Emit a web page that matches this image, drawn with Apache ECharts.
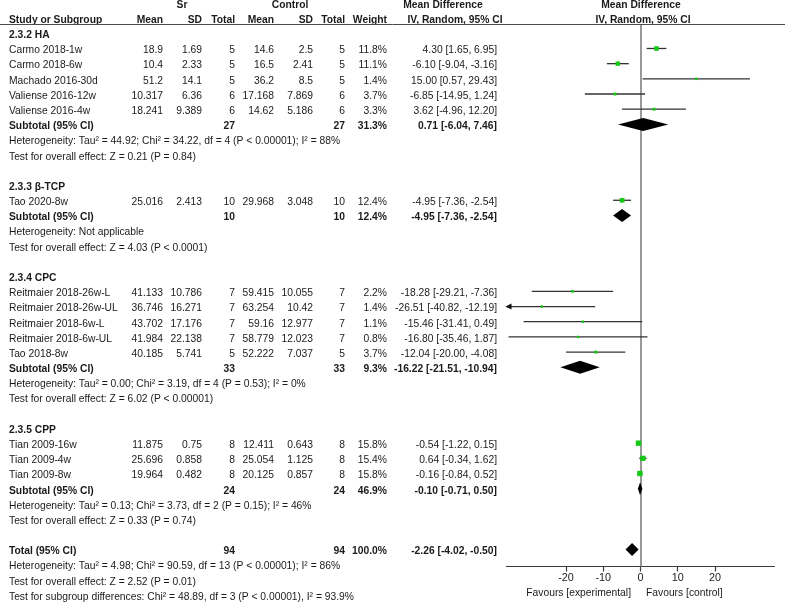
<!DOCTYPE html>
<html>
<head>
<meta charset="utf-8">
<script src="https://cdn.jsdelivr.net/npm/echarts@6/dist/echarts.min.js"></script>
<style>
html,body{margin:0;padding:0;background:#fff;}
#chart{width:785px;height:609px;}
</style>
</head>
<body>
<div id="chart"></div>
<script>
// ---------- data ----------
const studyNames = ['Carmo 2018-1w','Carmo 2018-6w','Machado 2016-30d','Valiense 2016-12w','Valiense 2016-4w','Tao 2020-8w','Reitmaier 2018-26w-L','Reitmaier 2018-26w-UL','Reitmaier 2018-6w-L','Reitmaier 2018-6w-UL','Tao 2018-8w','Tian 2009-16w','Tian 2009-4w','Tian 2009-8w'];
const studyGroup = [0,0,0,0,0,1,2,2,2,2,2,3,3,3];
const srMean = ['18.9','10.4','51.2','10.317','18.241','25.016','41.133','36.746','43.702','41.984','40.185','11.875','25.696','19.964'];
const srSD = ['1.69','2.33','14.1','6.36','9.389','2.413','10.786','16.271','17.176','22.138','5.741','0.75','0.858','0.482'];
const srN = [5,5,5,6,6,10,7,7,7,7,5,8,8,8];
const ctMean = ['14.6','16.5','36.2','17.168','14.62','29.968','59.415','63.254','59.16','58.779','52.222','12.411','25.054','20.125'];
const ctSD = ['2.5','2.41','8.5','7.869','5.186','3.048','10.055','10.42','12.977','12.023','7.037','0.643','1.125','0.857'];
const ctN = [5,5,5,6,6,10,7,7,7,7,5,8,8,8];
const weight = [11.8,11.1,1.4,3.7,3.3,12.4,2.2,1.4,1.1,0.8,3.7,15.8,15.4,15.8];
const md = [4.30,-6.10,15.00,-6.85,3.62,-4.95,-18.28,-26.51,-15.46,-16.80,-12.04,-0.54,0.64,-0.16];
const ciLo = [1.65,-9.04,0.57,-14.95,-4.96,-7.36,-29.21,-40.82,-31.41,-35.46,-20.00,-1.22,-0.34,-0.84];
const ciHi = [6.95,-3.16,29.43,1.24,12.20,-2.54,-7.36,-12.19,0.49,1.87,-4.08,0.15,1.62,0.52];

const groupNames = ['2.3.2 HA','2.3.3 β-TCP','2.3.4 CPC','2.3.5 CPP'];
const subSrN = [27,10,33,24];
const subCtN = [27,10,33,24];
const subWeight = [31.3,12.4,9.3,46.9];
const subMd = [0.71,-4.95,-16.22,-0.10];
const subLo = [-6.04,-7.36,-21.51,-0.71];
const subHi = [7.46,-2.54,-10.94,0.50];
const hetText = [
  'Heterogeneity: Tau² = 44.92; Chi² = 34.22, df = 4 (P < 0.00001); I² = 88%',
  'Heterogeneity: Not applicable',
  'Heterogeneity: Tau² = 0.00; Chi² = 3.19, df = 4 (P = 0.53); I² = 0%',
  'Heterogeneity: Tau² = 0.13; Chi² = 3.73, df = 2 (P = 0.15); I² = 46%'
];
const testText = [
  'Test for overall effect: Z = 0.21 (P = 0.84)',
  'Test for overall effect: Z = 4.03 (P < 0.0001)',
  'Test for overall effect: Z = 6.02 (P < 0.00001)',
  'Test for overall effect: Z = 0.33 (P = 0.74)'
];
const totalSrN = 94, totalCtN = 94, totalWeight = 100.0;
const totalMd = -2.26, totalLo = -4.02, totalHi = -0.50;
const totalLines = [
  'Heterogeneity: Tau² = 4.98; Chi² = 90.59, df = 13 (P < 0.00001); I² = 86%',
  'Test for overall effect: Z = 2.52 (P = 0.01)',
  'Test for subgroup differences: Chi² = 48.89, df = 3 (P < 0.00001), I² = 93.9%'
];
const tickValues = [-20,-10,0,10,20];
const favoursLeft = 'Favours [experimental]';
const favoursRight = 'Favours [control]';

// ---------- layout (row slots) ----------
const rows = [];
const studySlot = [], subSlot = [];
rows.push({slot:-2, type:'head1'});
rows.push({slot:-1, type:'head2'});
let s = 0;
groupNames.forEach((g, gi) => {
  rows.push({slot:s++, type:'group', gi});
  studyNames.forEach((n, i) => {
    if (studyGroup[i] === gi) { studySlot[i] = s; rows.push({slot:s++, type:'study', i}); }
  });
  subSlot[gi] = s; rows.push({slot:s++, type:'sub', gi});
  rows.push({slot:s++, type:'het', gi});
  rows.push({slot:s++, type:'test', gi});
  s++;
});
const totalSlot = s;
rows.push({slot:s++, type:'total'});
totalLines.forEach((t, k) => rows.push({slot:s++, type:'tline', k}));

// ---------- styles ----------
const FONT = '"Liberation Sans", Arial, sans-serif';
const FS = 10.3;
const TXT = '#1a1a1a';
const COL = {name:9, srMean:163, srSD:202, srN:235, ctMean:274, ctSD:313, ctN:345, w:387, eff:497};
const XMIN = -36, XMAX = 36;

function f2(v){ return v.toFixed(2); }
function eff(m,l,h){ return f2(m) + ' [' + f2(l) + ', ' + f2(h) + ']'; }

function cellsFor(r){
  const c = [];
  const add = (x, text, align, bold) => c.push({x, text, align, bold});
  switch (r.type) {
    case 'head1':
      add(182,'Sr','center',true); add(290,'Control','center',true);
      add(443,'Mean Difference','center',true); add(641,'Mean Difference','center',true);
      break;
    case 'head2':
      add(COL.name,'Study or Subgroup','left',true);
      add(COL.srMean,'Mean','right',true); add(COL.srSD,'SD','right',true); add(COL.srN,'Total','right',true);
      add(COL.ctMean,'Mean','right',true); add(COL.ctSD,'SD','right',true); add(COL.ctN,'Total','right',true);
      add(COL.w,'Weight','right',true);
      add(455,'IV, Random, 95% CI','center',true); add(643,'IV, Random, 95% CI','center',true);
      break;
    case 'group': add(COL.name, groupNames[r.gi], 'left', true); break;
    case 'study': {
      const i = r.i;
      add(COL.name, studyNames[i], 'left', false);
      add(COL.srMean, srMean[i], 'right', false); add(COL.srSD, srSD[i], 'right', false); add(COL.srN, String(srN[i]), 'right', false);
      add(COL.ctMean, ctMean[i], 'right', false); add(COL.ctSD, ctSD[i], 'right', false); add(COL.ctN, String(ctN[i]), 'right', false);
      add(COL.w, weight[i].toFixed(1)+'%', 'right', false);
      add(COL.eff, eff(md[i], ciLo[i], ciHi[i]), 'right', false);
      break; }
    case 'sub': {
      const g = r.gi;
      add(COL.name, 'Subtotal (95% CI)', 'left', true);
      add(COL.srN, String(subSrN[g]), 'right', true); add(COL.ctN, String(subCtN[g]), 'right', true);
      add(COL.w, subWeight[g].toFixed(1)+'%', 'right', true);
      add(COL.eff, eff(subMd[g], subLo[g], subHi[g]), 'right', true);
      break; }
    case 'het': add(COL.name, hetText[r.gi], 'left', false); break;
    case 'test': add(COL.name, testText[r.gi], 'left', false); break;
    case 'total':
      add(COL.name, 'Total (95% CI)', 'left', true);
      add(COL.srN, String(totalSrN), 'right', true); add(COL.ctN, String(totalCtN), 'right', true);
      add(COL.w, totalWeight.toFixed(1)+'%', 'right', true);
      add(COL.eff, eff(totalMd, totalLo, totalHi), 'right', true);
      break;
    case 'tline': add(COL.name, totalLines[r.k], 'left', false); break;
  }
  return c;
}

// ---------- chart ----------
const chart = echarts.init(document.getElementById('chart'), null, {renderer:'canvas'});

const studyData = studyNames.map((n,i) => [md[i], studySlot[i], ciLo[i], ciHi[i], weight[i]]);
const diamondData = groupNames.map((g,gi) => [subMd[gi], subSlot[gi], subLo[gi], subHi[gi]]);
diamondData.push([totalMd, totalSlot, totalLo, totalHi]);

const option = {
  animation: false,
  backgroundColor: '#ffffff',
  grid: {left: 506.5, width: 268, top: 24.5, height: 542},
  xAxis: {
    type: 'value', min: XMIN, max: XMAX,
    splitLine: {show:false},
    axisLine: {show:true, onZero:false, lineStyle:{color:'#3a3a3a', width:1.2}},
    axisTick: {show:true, customValues: tickValues, length:5, lineStyle:{color:'#3a3a3a', width:1.2}},
    axisLabel: {show:true, customValues: tickValues, margin:6, color:TXT, fontSize:10.8, fontFamily:FONT,
                formatter: v => String(v)}
  },
  yAxis: {
    type: 'value', inverse: true, min: -0.5797, max: 35.125,
    show: false
  },
  graphic: [
    {type:'line', shape:{x1:0, y1:24.5, x2:785, y2:24.5}, style:{stroke:'#4a4a4a', lineWidth:1}, z:10},
    {type:'text', x:631, y:593, style:{text:favoursLeft, align:'right', verticalAlign:'middle', font: FS+'px '+FONT, fill:TXT}},
    {type:'text', x:646, y:593, style:{text:favoursRight, align:'left', verticalAlign:'middle', font: FS+'px '+FONT, fill:TXT}}
  ],
  series: [
    {
      type: 'custom', name: 'table', silent: true, clip: false,
      data: rows.map((r, k) => [0, r.slot, k]),
      renderItem: function(params, api){
        const r = rows[api.value(2)];
        const y = api.coord([0, api.value(1)])[1] + 2;
        return {
          type: 'group',
          children: cellsFor(r).map(c => ({
            type: 'text', x: c.x, y: y,
            style: {text: c.text, align: c.align, verticalAlign: 'middle',
                    font: (c.bold ? 'bold ' : '') + FS + 'px ' + FONT, fill: TXT}
          }))
        };
      }
    },
    {
      type: 'custom', name: 'studies', silent: true, clip: false, z: 5,
      data: studyData,
      renderItem: function(params, api){
        const m = api.value(0), sl = api.value(1), lo = api.value(2), hi = api.value(3), w = api.value(4);
        const pL = api.coord([Math.max(lo, XMIN), sl]);
        const pH = api.coord([Math.min(hi, XMAX), sl]);
        const pM = api.coord([m, sl]);
        const children = [
          {type:'line', shape:{x1:pL[0], y1:pL[1], x2:pH[0], y2:pH[1]}, style:{stroke:'#333', lineWidth:1.3}}
        ];
        if (lo < XMIN) {
          children.push({type:'polygon', shape:{points:[[pL[0]-1,pL[1]],[pL[0]+5,pL[1]-3],[pL[0]+5,pL[1]+3]]}, style:{fill:'#111'}});
        }
        if (hi > XMAX) {
          children.push({type:'polygon', shape:{points:[[pH[0]+1,pH[1]],[pH[0]-5,pH[1]-3],[pH[0]-5,pH[1]+3]]}, style:{fill:'#111'}});
        }
        const sz = 2.2 + 0.2 * w;
        children.push({type:'rect', shape:{x:pM[0]-sz/2, y:pM[1]-sz/2, width:sz, height:sz}, style:{fill:'#14c814'}});
        return {type:'group', children};
      },
      markLine: {
        silent: true, symbol: 'none', label: {show:false},
        lineStyle: {color:'#808080', width:1.6, type:'solid'},
        data: [{xAxis: 0}]
      }
    },
    {
      type: 'custom', name: 'diamonds', silent: true, clip: false, z: 6,
      data: diamondData,
      renderItem: function(params, api){
        const m = api.value(0), sl = api.value(1), lo = api.value(2), hi = api.value(3);
        const pL = api.coord([lo, sl]), pH = api.coord([hi, sl]), pM = api.coord([m, sl]);
        const hh = 6.5;
        return {type:'polygon', shape:{points:[[pL[0],pL[1]],[pM[0],pM[1]-hh],[pH[0],pH[1]],[pM[0],pM[1]+hh]]}, style:{fill:'#000'}};
      }
    }
  ]
};
chart.setOption(option);
</script>
</body>
</html>
